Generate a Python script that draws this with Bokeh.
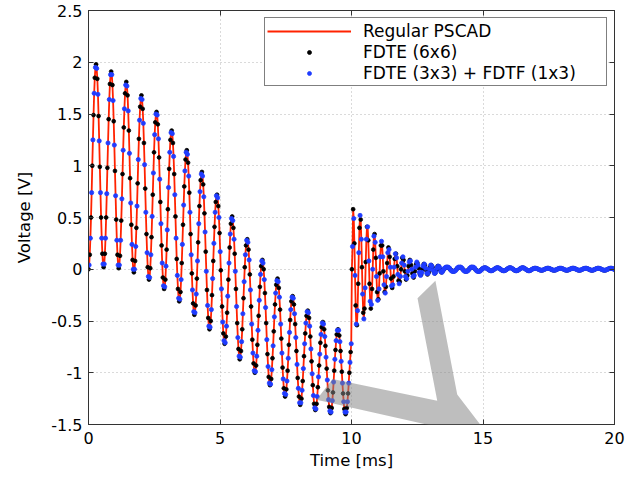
import numpy as np
from bokeh.plotting import figure
from bokeh.models import (FixedTicker, Legend, LegendItem, LinearAxis,
                          PolyAnnotation, Range1d)
from bokeh.embed import file_html
from bokeh.resources import INLINE

# ---------------------------------------------------------------- data
# time step between plotted samples of each model (ms); the two
# FDTE traces are sampled half a step apart
sample_step_ms = 0.575 / 12

# FDTE (6x6): 0 - 10 ms
fdte66_0_10 = [
    0.00, 0.14, 0.50, 1.00, 1.49, 1.85, 1.98, 1.84, 1.48, 0.99, 0.50, 0.15,
    0.02, 0.15, 0.50, 0.98, 1.45, 1.79, 1.91, 1.78, 1.43, 0.95, 0.48, 0.14,
    0.01, 0.13, 0.47, 0.92, 1.37, 1.70, 1.81, 1.68, 1.34, 0.88, 0.43, 0.09,
    -0.03, 0.08, 0.40, 0.83, 1.26, 1.57, 1.68, 1.55, 1.22, 0.78, 0.34, 0.02,
    -0.10, 0.01, 0.31, 0.72, 1.13, 1.42, 1.52, 1.40, 1.08, 0.65, 0.23, -0.08,
    -0.19, -0.10, 0.19, 0.58, 0.97, 1.25, 1.34, 1.22, 0.92, 0.51, 0.10, -0.19,
    -0.31, -0.22, 0.06, 0.43, 0.80, 1.06, 1.15, 1.03, 0.74, 0.34, -0.04, -0.33,
    -0.44, -0.35, -0.09, 0.26, 0.61, 0.86, 0.94, 0.82, 0.54, 0.17, -0.20, -0.47,
    -0.58, -0.50, -0.25, 0.08, 0.41, 0.65, 0.72, 0.61, 0.35, -0.01, -0.36, -0.62,
    -0.72, -0.65, -0.42, -0.10, 0.21, 0.44, 0.51, 0.40, 0.15, -0.19, -0.52, -0.77,
    -0.87, -0.79, -0.58, -0.28, 0.02, 0.23, 0.29, 0.19, -0.05, -0.36, -0.68, -0.91,
    -1.00, -0.93, -0.73, -0.45, -0.17, 0.03, 0.09, 0.00, -0.23, -0.52, -0.82, -1.04,
    -1.12, -1.06, -0.86, -0.60, -0.34, -0.15, -0.09, -0.18, -0.39, -0.67, -0.95, -1.15,
    -1.23, -1.16, -0.98, -0.73, -0.49, -0.31, -0.26, -0.34, -0.53, -0.79, -1.05, -1.23,
    -1.31, -1.25, -1.08, -0.84, -0.62, -0.45, -0.40, -0.47, -0.65, -0.89, -1.12, -1.30,
    -1.36, -1.30, -1.14, -0.93, -0.71, -0.56, -0.51, -0.58, -0.74, -0.96, -1.17, -1.33,
    -1.39, -1.34, -1.19, -0.98, -0.78, -0.63, -0.58, -0.64, -0.79, -0.99, -1.20, -1.35,
    -1.40, -1.34, -1.20, -1.00, -0.80,
]

# FDTE (6x6): 10 - 20 ms
fdte66_10_20 = [
    0.00,
    0.58, 0.25, -0.35, -0.54, -0.14, 0.40, 0.48, 0.02, -0.42, -0.38, 0.07, 0.41,
    0.28, -0.14, -0.38, -0.19, 0.19, 0.34, 0.11, -0.22, -0.29, -0.04, 0.23, 0.23,
    -0.02, -0.22, -0.17, 0.06, 0.21, 0.12, -0.09, -0.18, -0.07, 0.10, 0.15, 0.03,
    -0.11, -0.12, 0.00, 0.11, 0.09, -0.02, -0.10, -0.06, 0.03, 0.09, 0.04, -0.04,
    -0.08, -0.02, 0.05, 0.06, 0.01, -0.05, -0.05, 0.00, 0.05, 0.04, -0.01, -0.05,
    -0.03, 0.02, 0.04, 0.02, -0.02, -0.04, -0.01, 0.03, 0.03, 0.00, -0.03, -0.02,
    0.00, 0.01, 0.02, 0.02, 0.01, 0.00, -0.01, -0.02, -0.02, -0.01,
    0.00, 0.01, 0.02, 0.02, 0.01, 0.00, -0.01, -0.02, -0.02, -0.01,
    0.00, 0.01, 0.02, 0.02, 0.01, 0.00, -0.01, -0.02, -0.02, -0.01,
    0.000, 0.009, 0.014, 0.014, 0.009, 0.000, -0.009, -0.014, -0.014, -0.009,
    0.000, 0.009, 0.014, 0.014, 0.009, 0.000, -0.009, -0.014, -0.014, -0.009,
    0.000, 0.009, 0.014, 0.014, 0.009, 0.000, -0.009, -0.014, -0.014, -0.009,
    0.000, 0.009, 0.014, 0.014, 0.009, 0.000, -0.009, -0.014, -0.014, -0.009,
    0.000, 0.006, 0.010, 0.010, 0.006, 0.000, -0.006, -0.010, -0.010, -0.006,
    0.000, 0.006, 0.010, 0.010, 0.006, 0.000, -0.006, -0.010, -0.010, -0.006,
    0.000, 0.006, 0.010, 0.010, 0.006, 0.000, -0.006, -0.010, -0.010, -0.006,
    0.000, 0.006, 0.010, 0.010, 0.006, 0.000, -0.006, -0.010, -0.010, -0.006,
    0.000, 0.006, 0.010, 0.010, 0.006, 0.000, -0.006, -0.010, -0.010, -0.006,
    0.000, 0.006, 0.010, 0.010, 0.006, 0.000, -0.006, -0.010, -0.010, -0.006,
    0.000, 0.006, 0.010, 0.010, 0.006, 0.000,
]

# FDTE (3x3) + FDTF (1x3): 0 - 10 ms
fdte33_0_10 = [
    0.04, 0.30, 0.74, 1.25, 1.70, 1.95, 1.94, 1.69, 1.24, 0.74, 0.30, 0.05,
    0.05, 0.30, 0.73, 1.22, 1.64, 1.88, 1.88, 1.63, 1.20, 0.71, 0.28, 0.04,
    0.04, 0.28, 0.68, 1.15, 1.55, 1.78, 1.77, 1.53, 1.12, 0.64, 0.24, 0.00,
    0.00, 0.22, 0.61, 1.06, 1.44, 1.65, 1.64, 1.41, 1.01, 0.55, 0.16, -0.07,
    -0.08, 0.14, 0.51, 0.93, 1.30, 1.50, 1.49, 1.26, 0.87, 0.44, 0.06, -0.16,
    -0.17, 0.03, 0.38, 0.79, 1.13, 1.32, 1.31, 1.09, 0.72, 0.30, -0.06, -0.28,
    -0.29, -0.10, 0.24, 0.62, 0.95, 1.13, 1.11, 0.90, 0.55, 0.14, -0.20, -0.41,
    -0.42, -0.24, 0.08, 0.44, 0.75, 0.92, 0.90, 0.70, 0.36, -0.02, -0.35, -0.55,
    -0.56, -0.39, -0.09, 0.25, 0.55, 0.71, 0.69, 0.50, 0.17, -0.19, -0.51, -0.69,
    -0.71, -0.55, -0.26, 0.06, 0.34, 0.49, 0.47, 0.29, -0.02, -0.36, -0.66, -0.84,
    -0.85, -0.70, -0.43, -0.12, 0.14, 0.28, 0.26, 0.09, -0.20, -0.53, -0.81, -0.98,
    -0.99, -0.84, -0.59, -0.30, -0.05, 0.08, 0.06, -0.10, -0.37, -0.68, -0.94, -1.10,
    -1.11, -0.97, -0.74, -0.46, -0.23, -0.11, -0.12, -0.27, -0.53, -0.81, -1.06, -1.20,
    -1.21, -1.08, -0.86, -0.61, -0.39, -0.27, -0.28, -0.43, -0.66, -0.92, -1.15, -1.29,
    -1.29, -1.17, -0.96, -0.72, -0.52, -0.41, -0.42, -0.55, -0.77, -1.01, -1.22, -1.34,
    -1.35, -1.23, -1.04, -0.82, -0.63, -0.52, -0.53, -0.65, -0.85, -1.07, -1.26, -1.37,
    -1.38, -1.27, -1.09, -0.87, -0.69, -0.59, -0.59, -0.70, -0.89, -1.10, -1.28, -1.38,
    -1.38, -1.28, -1.10, -0.90, -0.72,
]

# FDTE (3x3) + FDTF (1x3): 10 - 20 ms
fdte33_10_20 = [
    0.22,
    0.49, -0.06, -0.53, -0.40, 0.16, 0.52, 0.29, -0.24, -0.48, -0.18, 0.29, 0.41,
    0.08, -0.31, -0.34, 0.00, 0.32, 0.26, -0.07, -0.30, -0.19, 0.12, 0.27, 0.12,
    -0.15, -0.23, -0.07, 0.16, 0.19, 0.02, -0.16, -0.15, 0.02, 0.15, 0.11, -0.05,
    -0.14, -0.07, 0.06, 0.12, 0.04, -0.07, -0.09, -0.02, 0.07, 0.08, 0.00, -0.07,
    -0.06, 0.02, 0.07, 0.04, -0.03, -0.06, -0.03, 0.03, 0.05, 0.01, -0.04, -0.04,
    0.00, 0.04, 0.03, -0.01, -0.04, -0.03, 0.01, 0.03, 0.02, -0.02, -0.03, -0.01,
    0.01, 0.02, 0.02, 0.02, 0.01, -0.01, -0.02, -0.02, -0.02, -0.01,
    0.01, 0.02, 0.02, 0.02, 0.01, -0.01, -0.02, -0.02, -0.02, -0.01,
    0.01, 0.02, 0.02, 0.02, 0.01, -0.01, -0.02, -0.02, -0.02, -0.01,
    0.005, 0.012, 0.015, 0.012, 0.005, -0.005, -0.012, -0.015, -0.012, -0.005,
    0.005, 0.012, 0.015, 0.012, 0.005, -0.005, -0.012, -0.015, -0.012, -0.005,
    0.005, 0.012, 0.015, 0.012, 0.005, -0.005, -0.012, -0.015, -0.012, -0.005,
    0.005, 0.012, 0.015, 0.012, 0.005, -0.005, -0.012, -0.015, -0.012, -0.005,
    0.003, 0.008, 0.010, 0.008, 0.003, -0.003, -0.008, -0.010, -0.008, -0.003,
    0.003, 0.008, 0.010, 0.008, 0.003, -0.003, -0.008, -0.010, -0.008, -0.003,
    0.003, 0.008, 0.010, 0.008, 0.003, -0.003, -0.008, -0.010, -0.008, -0.003,
    0.003, 0.008, 0.010, 0.008, 0.003, -0.003, -0.008, -0.010, -0.008, -0.003,
    0.003, 0.008, 0.010, 0.008, 0.003, -0.003, -0.008, -0.010, -0.008, -0.003,
    0.003, 0.008, 0.010, 0.008, 0.003, -0.003, -0.008, -0.010, -0.008, -0.003,
    0.003, 0.008, 0.010, 0.008, 0.003, -0.003,
]

series_names = ["Regular PSCAD", "FDTE (6x6)", "FDTE (3x3) + FDTF (1x3)"]
x_ticks = [0, 5, 10, 15, 20]
y_ticks = [-1.5, -1, -0.5, 0, 0.5, 1, 1.5, 2, 2.5]
y_tick_labels = ["-1.5", "-1", "-0.5", "0", "0.5", "1", "1.5", "2", "2.5"]

# grey watermark stamped over the picture (ms, V)
watermark_t = [8.67, 9.28, 13.26, 12.51, 13.19, 14.02, 16.46, 15.10, 13.38]
watermark_v = [-1.26, -1.06, -1.27, -0.28, -0.11, -1.21, -2.02, -2.02, -1.53]

# ---------------------------------------------------------------- build
v66 = np.array(fdte66_0_10 + fdte66_10_20)
v33 = np.array(fdte33_0_10 + fdte33_10_20)
t66 = np.arange(len(v66)) * sample_step_ms
t33 = np.arange(len(v33)) * sample_step_ms + sample_step_ms / 2

# the PSCAD trace runs through both sets of samples (time-ordered)
t_ref = np.empty(len(t66) + len(t33))
v_ref = np.empty(len(t66) + len(t33))
t_ref[0::2], t_ref[1::2] = t66, t33
v_ref[0::2], v_ref[1::2] = v66, v33

FONT = "DejaVu Sans"
RED = "#ff2200"
BLUE = "#1f3cff"
AX = "#333333"

p = figure(width=634, height=478,
           x_range=Range1d(0, 20), y_range=Range1d(-1.5, 2.5),
           output_backend="svg", toolbar_location=None,
           min_border_left=88, min_border_right=20,
           min_border_top=10, min_border_bottom=54,
           background_fill_color="white", border_fill_color="white")

r_ref = p.line(t_ref, v_ref, line_color=RED, line_width=1.8)
r66 = p.scatter(t66, v66, size=3.8, fill_color="black", line_color="black",
                line_width=0.8)
r33 = p.scatter(t33, v33, size=4.2, fill_color=BLUE, line_color=BLUE,
                line_width=0.8)

p.outline_line_color = AX
p.outline_line_width = 1

xa = p.xaxis[0]
ya = p.yaxis[0]
xa.ticker = FixedTicker(ticks=x_ticks)
ya.ticker = FixedTicker(ticks=y_ticks)
ya.major_label_overrides = {t: s for t, s in zip(y_ticks, y_tick_labels)}
xa.axis_label = "Time [ms]"
ya.axis_label = "Voltage [V]"
for ax in (xa, ya):
    ax.axis_line_color = AX
    ax.major_tick_line_color = AX
    ax.major_tick_in = 5
    ax.major_tick_out = 0
    ax.minor_tick_line_color = None
    ax.major_label_text_font = FONT
    ax.major_label_text_font_size = "16px"
    ax.major_label_text_color = "black"
    ax.axis_label_text_font = FONT
    ax.axis_label_text_font_size = "16.5px"
    ax.axis_label_text_font_style = "normal"
    ax.axis_label_text_color = "black"
xa.major_label_standoff = 7
xa.axis_label_standoff = 4
ya.major_label_standoff = 6
ya.axis_label_standoff = 14

# tick marks on the top and right edges of the box (no labels there)
for place, ticks in (("above", x_ticks), ("right", y_ticks)):
    extra = LinearAxis(ticker=FixedTicker(ticks=ticks),
                       major_label_text_font_size="1px",
                       major_label_text_color=None,
                       major_label_standoff=0,
                       major_tick_in=5, major_tick_out=0,
                       major_tick_line_color=AX, axis_line_color=AX,
                       minor_tick_line_color=None)
    p.add_layout(extra, place)

p.grid.grid_line_color = "#b4b4b4"
p.grid.grid_line_dash = "1 3"
p.grid.grid_line_width = 1

legend = Legend(items=[LegendItem(label=series_names[0], renderers=[r_ref]),
                       LegendItem(label=series_names[1], renderers=[r66]),
                       LegendItem(label=series_names[2], renderers=[r33])],
                location="top_right", margin=7, padding=2, spacing=0,
                glyph_width=84, glyph_height=10, label_height=21,
                label_width=241, label_standoff=12,
                label_text_font=FONT, label_text_font_size="17px",
                label_text_color="black",
                border_line_color="black", border_line_width=1,
                background_fill_color="white", background_fill_alpha=1)
p.add_layout(legend)

p.add_layout(PolyAnnotation(xs=watermark_t, ys=watermark_v,
                            fill_color="#848484", fill_alpha=0.53,
                            line_color=None, level="overlay"))

open("out.html", "w").write(file_html(p, INLINE))
